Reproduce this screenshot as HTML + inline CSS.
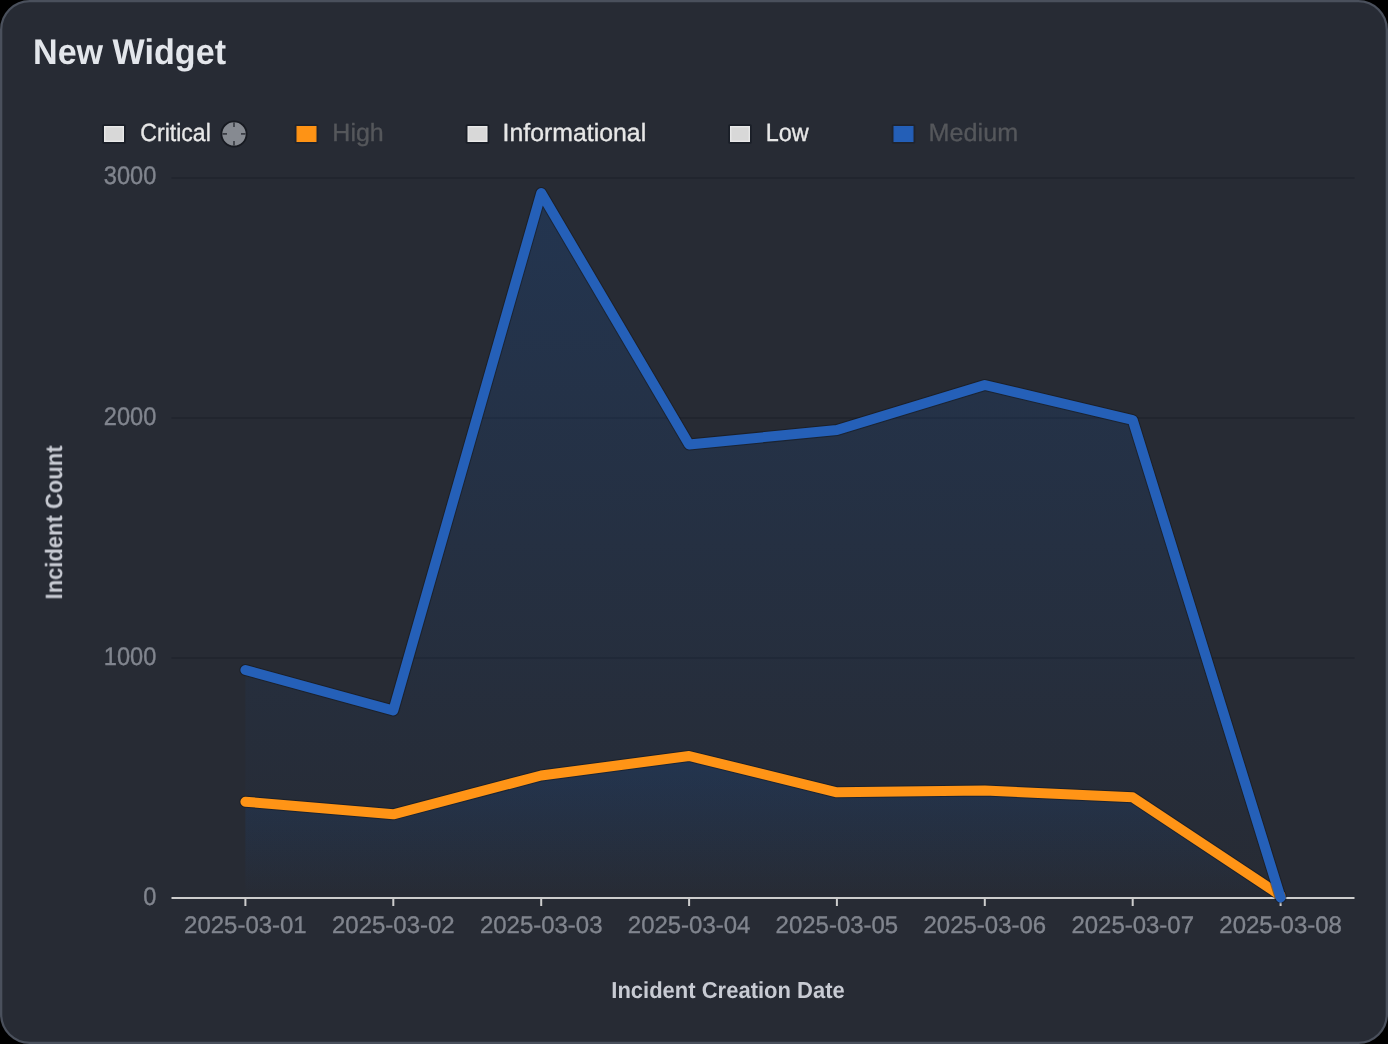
<!DOCTYPE html>
<html><head><meta charset="utf-8"><title>New Widget</title>
<style>
html,body{margin:0;padding:0;background:#000;}
body{width:1388px;height:1044px;overflow:hidden;position:relative;font-family:"Liberation Sans", sans-serif;}
.card{position:absolute;left:1px;top:1px;width:1386px;height:1042px;box-sizing:border-box;background:#272b34;border-radius:29px;}
</style></head><body>
<div class="card"></div>
<svg width="1388" height="1044" viewBox="0 0 1388 1044" text-rendering="geometricPrecision" style="position:absolute;left:0;top:0;font-family:&quot;Liberation Sans&quot;,sans-serif">
<rect x="1.15" y="1.15" width="1385.7" height="1041.7" rx="28.6" ry="28.6" fill="#272b34" stroke="#4a505c" stroke-width="2.3"/>
<defs>
<linearGradient id="gm" gradientUnits="userSpaceOnUse" x1="0" y1="193" x2="0" y2="898.0"><stop offset="0" stop-color="#194d94" stop-opacity="0.29"/><stop offset="1" stop-color="#194d94" stop-opacity="0.0"/></linearGradient>
<linearGradient id="gh" gradientUnits="userSpaceOnUse" x1="0" y1="756" x2="0" y2="898.0"><stop offset="0" stop-color="#194d94" stop-opacity="0.245"/><stop offset="1" stop-color="#194d94" stop-opacity="0.0"/></linearGradient>
</defs>
<rect x="171.5" y="657.0" width="1183.0" height="2" fill="#21252e"/>
<rect x="171.5" y="417.0" width="1183.0" height="2" fill="#21252e"/>
<rect x="171.5" y="177.0" width="1183.0" height="2" fill="#21252e"/>
<path d="M245.4,898.0 L245.4,670.0 L393.3,710.5 L541.2,193.0 L689.1,444.5 L836.9,430.0 L984.8,385.0 L1132.7,420.0 L1280.6,897.5 L1280.6,898.0 Z" fill="url(#gm)"/>
<path d="M245.4,898.0 L245.4,801.7 L393.3,814.3 L541.2,775.5 L689.1,756.0 L836.9,792.3 L984.8,790.5 L1132.7,797.3 L1280.6,895.5 L1280.6,898.0 Z" fill="url(#gh)"/>
<rect x="171.5" y="897.0" width="1183.0" height="2" fill="#cdcdcd"/>
<rect x="244.4" y="898.0" width="2" height="8" fill="#cdcdcd"/>
<rect x="392.3" y="898.0" width="2" height="8" fill="#cdcdcd"/>
<rect x="540.2" y="898.0" width="2" height="8" fill="#cdcdcd"/>
<rect x="688.1" y="898.0" width="2" height="8" fill="#cdcdcd"/>
<rect x="835.9" y="898.0" width="2" height="8" fill="#cdcdcd"/>
<rect x="983.8" y="898.0" width="2" height="8" fill="#cdcdcd"/>
<rect x="1131.7" y="898.0" width="2" height="8" fill="#cdcdcd"/>
<rect x="1279.6" y="898.0" width="2" height="8" fill="#cdcdcd"/>
<polyline points="245.4,801.7 393.3,814.3 541.2,775.5 689.1,756.0 836.9,792.3 984.8,790.5 1132.7,797.3 1280.6,895.5" fill="none" stroke="#0c0e14" stroke-opacity="0.4" stroke-width="12" stroke-linejoin="round" stroke-linecap="round"/>
<polyline points="245.4,801.7 393.3,814.3 541.2,775.5 689.1,756.0 836.9,792.3 984.8,790.5 1132.7,797.3 1280.6,895.5" fill="none" stroke="#ff9416" stroke-width="10" stroke-linejoin="round" stroke-linecap="round"/>
<polyline points="245.4,670.0 393.3,710.5 541.2,193.0 689.1,444.5 836.9,430.0 984.8,385.0 1132.7,420.0 1280.6,897.5" fill="none" stroke="#0c0e14" stroke-opacity="0.4" stroke-width="12" stroke-linejoin="round" stroke-linecap="round"/>
<polyline points="245.4,670.0 393.3,710.5 541.2,193.0 689.1,444.5 836.9,430.0 984.8,385.0 1132.7,420.0 1280.6,897.5" fill="none" stroke="#2560b8" stroke-width="10" stroke-linejoin="round" stroke-linecap="round"/>
<g opacity="0.999">
<text transform="translate(156.3,905.3) scale(1,1.085)" text-anchor="end" font-size="23.6" fill="#82868f" stroke="#82868f" stroke-width="0.35">0</text>
<text transform="translate(156.3,665.3) scale(1,1.085)" text-anchor="end" font-size="23.6" fill="#82868f" stroke="#82868f" stroke-width="0.35">1000</text>
<text transform="translate(156.3,425.3) scale(1,1.085)" text-anchor="end" font-size="23.6" fill="#82868f" stroke="#82868f" stroke-width="0.35">2000</text>
<text transform="translate(156.3,183.9) scale(1,1.085)" text-anchor="end" font-size="23.6" fill="#82868f" stroke="#82868f" stroke-width="0.35">3000</text>
<text x="245.4" y="933" text-anchor="middle" font-size="24" fill="#82868f" stroke="#82868f" stroke-width="0.35" textLength="122.6" lengthAdjust="spacingAndGlyphs">2025-03-01</text>
<text x="393.3" y="933" text-anchor="middle" font-size="24" fill="#82868f" stroke="#82868f" stroke-width="0.35" textLength="122.6" lengthAdjust="spacingAndGlyphs">2025-03-02</text>
<text x="541.2" y="933" text-anchor="middle" font-size="24" fill="#82868f" stroke="#82868f" stroke-width="0.35" textLength="122.6" lengthAdjust="spacingAndGlyphs">2025-03-03</text>
<text x="689.1" y="933" text-anchor="middle" font-size="24" fill="#82868f" stroke="#82868f" stroke-width="0.35" textLength="122.6" lengthAdjust="spacingAndGlyphs">2025-03-04</text>
<text x="836.9" y="933" text-anchor="middle" font-size="24" fill="#82868f" stroke="#82868f" stroke-width="0.35" textLength="122.6" lengthAdjust="spacingAndGlyphs">2025-03-05</text>
<text x="984.8" y="933" text-anchor="middle" font-size="24" fill="#82868f" stroke="#82868f" stroke-width="0.35" textLength="122.6" lengthAdjust="spacingAndGlyphs">2025-03-06</text>
<text x="1132.7" y="933" text-anchor="middle" font-size="24" fill="#82868f" stroke="#82868f" stroke-width="0.35" textLength="122.6" lengthAdjust="spacingAndGlyphs">2025-03-07</text>
<text x="1280.6" y="933" text-anchor="middle" font-size="24" fill="#82868f" stroke="#82868f" stroke-width="0.35" textLength="122.6" lengthAdjust="spacingAndGlyphs">2025-03-08</text>
<text transform="translate(728,998.3) scale(1,1.05)" text-anchor="middle" font-size="22" font-weight="bold" fill="#c9ccd4">Incident Creation Date</text>
<text transform="translate(61.7,522.5) rotate(-90) scale(1,1.08)" text-anchor="middle" font-size="22" font-weight="bold" fill="#c9ccd4">Incident Count</text>
<text transform="translate(33,64.2) scale(1,1.05)" font-size="34" font-weight="bold" fill="#e4e7ec" textLength="193" lengthAdjust="spacingAndGlyphs">New Widget</text>
<rect x="102.3" y="124.3" width="23.4" height="19.4" rx="1.5" fill="#131720" fill-opacity="0.6"/>
<rect x="104.7" y="126.7" width="18.6" height="14.6" fill="#d9d9d9" stroke="#e9e9e9" stroke-width="1.4"/>
<text transform="translate(140.3,141.1) scale(1,1.04)" font-size="24" fill="#e8e8e8" stroke="#e8e8e8" stroke-width="0.35" textLength="70.5" lengthAdjust="spacingAndGlyphs">Critical</text>
<rect x="294.8" y="124.3" width="23.4" height="19.4" rx="1.5" fill="#131720" fill-opacity="0.3"/>
<rect x="297.2" y="126.7" width="18.6" height="14.6" fill="#ff9416" stroke="#ff9416" stroke-width="1.4"/>
<text transform="translate(332.3,141.1) scale(1,1.04)" font-size="24" fill="#56585c" stroke="#56585c" stroke-width="0.35" textLength="51.5" lengthAdjust="spacingAndGlyphs">High</text>
<rect x="465.8" y="124.3" width="23.4" height="19.4" rx="1.5" fill="#131720" fill-opacity="0.6"/>
<rect x="468.2" y="126.7" width="18.6" height="14.6" fill="#d9d9d9" stroke="#e9e9e9" stroke-width="1.4"/>
<text transform="translate(502.6,141.1) scale(1,1.04)" font-size="24" fill="#e8e8e8" stroke="#e8e8e8" stroke-width="0.35" textLength="143.6" lengthAdjust="spacingAndGlyphs">Informational</text>
<rect x="728.3" y="124.3" width="23.4" height="19.4" rx="1.5" fill="#131720" fill-opacity="0.6"/>
<rect x="730.7" y="126.7" width="18.6" height="14.6" fill="#d9d9d9" stroke="#e9e9e9" stroke-width="1.4"/>
<text transform="translate(765.8,141.1) scale(1,1.04)" font-size="24" fill="#e8e8e8" stroke="#e8e8e8" stroke-width="0.35" textLength="43" lengthAdjust="spacingAndGlyphs">Low</text>
<rect x="891.8" y="124.3" width="23.4" height="19.4" rx="1.5" fill="#131720" fill-opacity="0.3"/>
<rect x="894.2" y="126.7" width="18.6" height="14.6" fill="#2560b8" stroke="#2560b8" stroke-width="1.4"/>
<text transform="translate(928.6,141.1) scale(1,1.04)" font-size="24" fill="#56585c" stroke="#56585c" stroke-width="0.35" textLength="89.5" lengthAdjust="spacingAndGlyphs">Medium</text>
</g>
<g transform="translate(234,133.9)"><circle r="12.6" fill="#868a91" stroke="#171a21" stroke-width="1.8"/><path d="M0,-11.6V-7M0,11.6V7M-11.6,0H-7M11.6,0H7" stroke="#3a3d44" stroke-width="1.7" fill="none"/></g>
</svg>
</body></html>
